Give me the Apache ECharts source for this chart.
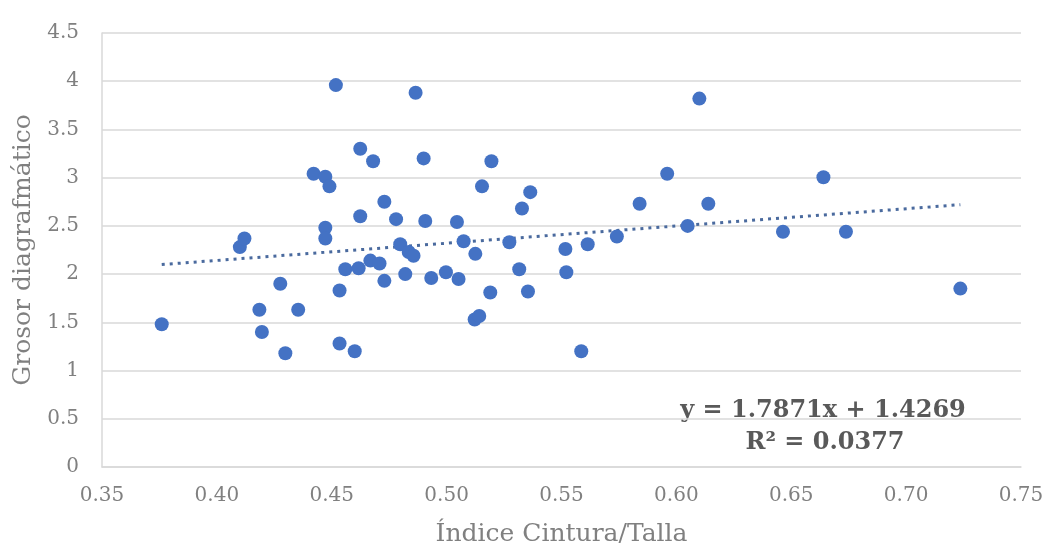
<!DOCTYPE html>
<html>
<head>
<meta charset="utf-8">
<script src="https://cdn.jsdelivr.net/npm/echarts@6/dist/echarts.min.js"></script>
<style>
  html, body { margin: 0; padding: 0; background: #fff; }
  #chart { width: 1049px; height: 554px; }
</style>
</head>
<body>
<div id="chart"></div>
<script>
// Índice Cintura/Talla (x) vs Grosor diagrafmático (y)
const xValues = [
  0.376, 0.410, 0.412, 0.4185, 0.4196, 0.4276, 0.4298, 0.4354, 0.4421, 0.4472,
  0.449, 0.4472, 0.4472, 0.4518, 0.4534, 0.4534, 0.4559, 0.460, 0.4617, 0.4624,
  0.4624, 0.4668, 0.468, 0.4708, 0.4729, 0.4729, 0.478, 0.4798, 0.482, 0.4835,
  0.4856, 0.4865, 0.490, 0.4907, 0.4933, 0.4997, 0.5045, 0.5052, 0.5074, 0.5122,
  0.5142, 0.5125, 0.5154, 0.519, 0.5195, 0.5273, 0.5316, 0.5328, 0.5354, 0.5364,
  0.5517, 0.5521, 0.5586, 0.5614, 0.5741, 0.584, 0.596, 0.6049, 0.610, 0.6139,
  0.6464, 0.664, 0.6738, 0.7236
]
const yValues = [
  1.48, 2.28, 2.37, 1.63, 1.40, 1.90, 1.18, 1.63, 3.04, 3.01,
  2.91, 2.48, 2.37, 3.96, 1.83, 1.28, 2.05, 1.20, 2.06, 2.60,
  3.30, 2.14, 3.17, 2.11, 2.75, 1.93, 2.57, 2.31, 2.00, 2.23,
  2.19, 3.88, 3.20, 2.55, 1.96, 2.02, 2.54, 1.95, 2.34, 1.53,
  1.565, 2.21, 2.91, 1.81, 3.17, 2.33, 2.05, 2.68, 1.82, 2.85,
  2.26, 2.02, 1.20, 2.31, 2.39, 2.73, 3.04, 2.50, 3.82, 2.73,
  2.44, 3.005, 2.44, 1.85
]

// línea de tendencia (extremos)
const trendX = [0.376, 0.7236]
const trendY = [2.099, 2.720]

const equationText = 'y = 1.7871x + 1.4269'
const r2Text = 'R² = 0.0377'
const xTitle = 'Índice Cintura/Talla'
const yTitle = 'Grosor diagrafmático'

const chart = echarts.init(document.getElementById('chart'))

const labelFont = 'DejaVu Serif'
const gray = '#808080'

const option = {
  animation: false,
  grid: {
    left: 102,
    right: 28,
    top: 33,
    bottom: 87
  },
  xAxis: {
    type: 'value',
    min: 0.35,
    max: 0.75,
    interval: 0.05,
    name: xTitle,
    nameLocation: 'middle',
    nameGap: 55,
    nameTextStyle: { color: gray, fontSize: 25, fontFamily: labelFont },
    axisLine: { show: true, lineStyle: { color: '#d9d9d9', width: 1.5 } },
    axisTick: { show: false },
    splitLine: { show: false },
    axisLabel: {
      color: gray,
      fontSize: 20,
      fontFamily: labelFont,
      margin: 19,
      formatter: function (value) {
        return value.toFixed(2)
      }
    }
  },
  yAxis: {
    type: 'value',
    min: 0,
    max: 4.5,
    interval: 0.5,
    name: yTitle,
    nameLocation: 'middle',
    nameGap: 62,
    nameTextStyle: { color: gray, fontSize: 25, fontFamily: labelFont },
    axisLine: { show: true, lineStyle: { color: '#d9d9d9', width: 1.5 } },
    axisTick: { show: false },
    splitLine: { show: true, lineStyle: { color: '#d9d9d9', width: 1.5 } },
    axisLabel: {
      color: gray,
      fontSize: 20,
      fontFamily: labelFont,
      margin: 23
    }
  },
  series: [
    {
      name: 'Grosor',
      type: 'scatter',
      data: xValues.map((x, i) => [x, yValues[i]]),
      symbolSize: 14,
      itemStyle: { color: '#4472c4', opacity: 1 },
      z: 3
    },
    {
      name: 'Tendencia',
      type: 'line',
      data: trendX.map((x, i) => [x, trendY[i]]),
      symbol: 'none',
      lineStyle: { color: '#4a6a9e', width: 3, type: [3, 5] },
      z: 2
    }
  ],
  graphic: [
    {
      type: 'text',
      x: 823,
      y: 411,
      style: {
        text: equationText,
        fill: '#595959',
        font: 'bold 24px "DejaVu Serif"',
        align: 'center',
        verticalAlign: 'middle'
      }
    },
    {
      type: 'text',
      x: 825,
      y: 443,
      style: {
        text: r2Text,
        fill: '#595959',
        font: 'bold 24px "DejaVu Serif"',
        align: 'center',
        verticalAlign: 'middle'
      }
    }
  ]
}

chart.setOption(option)
</script>
</body>
</html>
